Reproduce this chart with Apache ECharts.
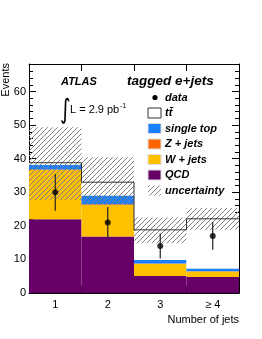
<!DOCTYPE html>
<html><head><meta charset="utf-8">
<script src="https://cdn.jsdelivr.net/npm/echarts@6/dist/echarts.min.js"></script>
<style>html,body{margin:0;padding:0;background:#fff}#c{width:262px;height:339px}</style>
</head><body><div id="c"></div>
<script>
const categories = ['1', '2', '3', '\u2265 4'];
const qcd = [22.0, 16.8, 5.1, 4.8];
const wJets = [14.6, 9.4, 3.6, 1.6];
const zJets = [0.2, 0.2, 0.1, 0.1];
const singleTop = [1.4, 2.6, 1.0, 0.8];
const ttbar = [0.6, 4.0, 9.0, 14.8];
const uncLow = [27.7, 26.2, 14.8, 18.8];
const uncHigh = [49.4, 40.4, 22.5, 25.3];
const dataVals = [30, 21, 14, 17];
const dataErr = [5.5, 4.6, 3.7, 4.1];

const FONT = 'Liberation Sans, Arial, Helvetica, sans-serif';
const C = {qcd:'#660066', w:'#ffc000', z:'#ff6600', st:'#1a7fff'};

// hatch pattern
const hc = document.createElement('canvas');
hc.width = 5; hc.height = 5;
const hx = hc.getContext('2d');
hx.strokeStyle = '#808080'; hx.lineWidth = 1;
hx.beginPath();
hx.moveTo(-1, 6); hx.lineTo(6, -1);
hx.moveTo(-1, 1); hx.lineTo(1, -1);
hx.moveTo(4, 6); hx.lineTo(6, 4);
hx.stroke();
const hatch = {image: hc, repeat: 'repeat'};

const layers = [qcd, wJets, zJets, singleTop, ttbar];
const layerColors = [C.qcd, C.w, C.z, C.st, '#ffffff'];
const bottoms = [];
let acc = [0,0,0,0];
layers.forEach(function(arr){ bottoms.push(acc.slice()); acc = acc.map(function(v,i){return v + arr[i];}); });
const total = acc;

function rectItem(params, api) {
  const i = api.value(0);
  const p0 = api.coord([i, api.value(1)]);
  const p1 = api.coord([i, api.value(2)]);
  const w = api.size([1, 0])[0];
  return {type: 'rect', shape: {x: p0[0] - w / 2, y: p1[1], width: w, height: p0[1] - p1[1]},
          style: {fill: params.seriesName === 'unc' ? hatch : api.visual('color')}};
}

const series = [];
layers.forEach(function(arr, k){
  series.push({
    type: 'custom', name: 's' + k, renderItem: rectItem, encode: {x: 0, y: [1, 2]},
    itemStyle: {color: layerColors[k]},
    data: arr.map(function(v, i){ return [i, bottoms[k][i], bottoms[k][i] + v]; }),
    z: 2
  });
});
series.push({
  type: 'custom', name: 'unc', renderItem: rectItem, encode: {x: 0, y: [1, 2]},
  data: uncLow.map(function(v, i){ return [i, v, uncHigh[i]]; }), z: 3
});
series.push({
  type: 'custom', name: 'outline', z: 4,
  encode: {x: 0, y: [1, 2]},
  data: total.map(function(v, i){ return [i, v, i > 0 ? total[i-1] : v]; }),
  renderItem: function(params, api){
    const i = api.value(0);
    const p = api.coord([i, api.value(1)]);
    const q = api.coord([i, api.value(2)]);
    const w = api.size([1, 0])[0];
    return {type: 'polyline', shape: {points: [[p[0]-w/2, q[1]], [p[0]-w/2, p[1]], [p[0]+w/2, p[1]]]},
            style: {stroke: '#333', lineWidth: 1, fill: null}};
  }
});
series.push({
  type: 'custom', name: 'err', z: 5,
  encode: {x: 0, y: [1, 2]},
  data: dataVals.map(function(v, i){ return [i, v - dataErr[i], v + dataErr[i]]; }),
  renderItem: function(params, api){
    const i = api.value(0);
    const a = api.coord([i, api.value(1)]);
    const b = api.coord([i, api.value(2)]);
    return {type: 'line', shape: {x1: a[0], y1: a[1], x2: b[0], y2: b[1]},
            style: {stroke: '#222', lineWidth: 1.2}};
  }
});
series.push({
  type: 'scatter', name: 'data', z: 6, symbol: 'circle', symbolSize: 6,
  itemStyle: {color: '#000'},
  data: dataVals.map(function(v, i){ return [i, v]; })
});

function xAx(pos, showLabel) {
  return {type: 'category', data: categories, position: pos, boundaryGap: true, gridIndex: 0,
    axisLine: {show: true, onZero: false, lineStyle: {color: '#000', width: 1}},
    axisTick: {show: true, inside: true, length: 7, interval: 0, lineStyle: {color: '#000'}},
    axisLabel: {show: showLabel, color: '#000', fontFamily: FONT, fontSize: 11, margin: 6, interval: 0},
    splitLine: {show: false}};
}
function yAx(pos, showLabel) {
  return {type: 'value', position: pos, min: 0, max: 68.2, interval: 10,
    axisLine: {show: true, onZero: false, lineStyle: {color: '#000', width: 1}},
    axisTick: {show: true, inside: true, length: 7, lineStyle: {color: '#000'}},
    minorTick: {show: true, splitNumber: 5, length: 4, lineStyle: {color: '#000'}},
    axisLabel: {show: showLabel, color: '#000', fontFamily: FONT, fontSize: 11, margin: 3, showMaxLabel: false},
    splitLine: {show: false}, minorSplitLine: {show: false}};
}

const legendItems = [
  {label: 'data', kind: 'dot'},
  {label: 'tt\u0304', kind: 'box', color: '#fff'},
  {label: 'single top', kind: 'box', color: C.st},
  {label: 'Z + jets', kind: 'box', color: C.z},
  {label: 'W + jets', kind: 'box', color: C.w},
  {label: 'QCD', kind: 'box', color: C.qcd},
  {label: 'uncertainty', kind: 'hatch'}
];
const graphics = [];
const legTop = 97.5, legStep = 15.5, boxX = 148, textX = 165;
legendItems.forEach(function(it, k){
  const cy = legTop + k * legStep;
  if (it.kind === 'dot') {
    graphics.push({type: 'circle', shape: {cx: boxX + 7, cy: cy, r: 2.6}, style: {fill: '#000'}});
  } else {
    graphics.push({type: 'rect', shape: {x: boxX, y: cy - 5, width: 13, height: 10},
      style: {fill: it.kind === 'hatch' ? hatch : it.color, stroke: it.kind === 'box' && it.color === '#fff' ? '#333' : (it.kind === 'hatch' ? null : '#ddd'), lineWidth: 1}});
  }
  graphics.push({type: 'text', x: textX, y: cy, style: {text: it.label, font: 'italic bold 11px ' + FONT, fill: '#000', verticalAlign: 'middle'}});
});
graphics.push({type: 'text', x: 61, y: 82, style: {text: 'ATLAS', font: 'italic bold 11px ' + FONT, fill: '#000', verticalAlign: 'middle'}});
graphics.push({type: 'text', x: 127, y: 81, style: {text: 'tagged e+jets', font: 'italic bold 13.5px ' + FONT, fill: '#000', verticalAlign: 'middle'}});
graphics.push({type: 'text', x: 60, y: 111, scaleX: 0.75, originX: 0, originY: 0, style: {text: '\u222B', font: '27px DejaVu Sans, ' + FONT, fill: '#000', verticalAlign: 'middle'}});
graphics.push({type: 'text', x: 70, y: 110, style: {
  text: '{a|L = 2.9 pb}{b|-1}', verticalAlign: 'middle', fill: '#000',
  rich: {a: {font: '11px ' + FONT, fill: '#000'}, b: {font: '7px ' + FONT, fill: '#000', verticalAlign: 'top', padding: [0, 0, 7, 1]}}}});
graphics.push({type: 'text', x: 6, y: 63, rotation: Math.PI / 2, style: {text: 'Events', font: '11px ' + FONT, fill: '#000', align: 'right', verticalAlign: 'middle'}});
graphics.push({type: 'text', x: 239, y: 320, style: {text: 'Number of jets', font: '11px ' + FONT, fill: '#000', align: 'right', verticalAlign: 'middle'}});

const chart = echarts.init(document.getElementById('c'), null, {renderer: 'canvas'});
chart.setOption({
  animation: false,
  backgroundColor: '#fff',
  grid: {left: 29, right: 23, top: 64, bottom: 46, containLabel: false},
  xAxis: [xAx('bottom', true), xAx('top', false)],
  yAxis: [yAx('left', true), yAx('right', false)],
  series: series,
  graphic: graphics
});
</script></body></html>
